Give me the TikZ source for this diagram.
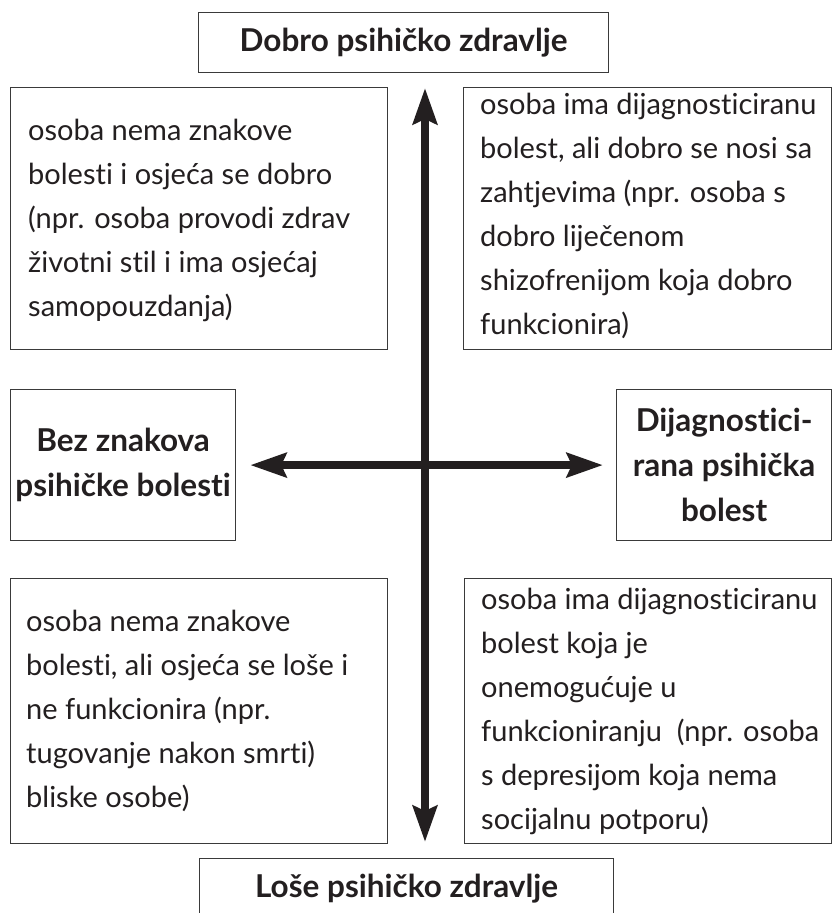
\documentclass[tikz,border=0pt]{standalone}
\usepackage{fontspec}
\setmainfont{Lato}[Ligatures={NoCommon,NoRare}]
\usetikzlibrary{arrows.meta}
\definecolor{ink}{HTML}{231F20}
\definecolor{frame}{HTML}{3A3A3A}
\begin{document}
\begin{tikzpicture}[x=1pt,y=-1pt,
  box/.style={draw=frame, line width=1.2pt, inner sep=0pt, anchor=north west},
  body/.style={font=\fontsize{29}{44}\selectfont, text=ink, align=left, inner sep=0pt, anchor=west},
  head/.style={font=\bfseries\fontsize{31.5}{45}\selectfont, text=ink, align=center, inner sep=0pt},
  bigarrow/.style={draw=ink, line width=8.5pt,
    {Stealth[length=36pt,width=24pt,inset=5pt]}-{Stealth[length=36pt,width=24pt,inset=5pt]}}]
\useasboundingbox (0,0) rectangle (833,913);
\clip (0,0) rectangle (833,913);
\fill[white] (0,0) rectangle (833,913);

% boxes
\node[box, minimum width=410pt, minimum height=60pt] (top) at (198,12) {};
\node[box, minimum width=377pt, minimum height=262pt] (tl) at (10,87) {};
\node[box, minimum width=368pt, minimum height=262pt] (tr) at (463,87) {};
\node[box, minimum width=225pt, minimum height=151pt] (ml) at (10,389) {};
\node[box, minimum width=215pt, minimum height=151pt] (mr) at (616,389) {};
\node[box, minimum width=377pt, minimum height=265pt] (bl) at (10,578) {};
\node[box, minimum width=367pt, minimum height=265pt] (br) at (464,578) {};
\node[box, minimum width=414pt, minimum height=60pt] (bot) at (199,858) {};

% headings
\node[head] (topt) at (top.center) {Dobro psihičko zdravlje};
\node[head] (bott) at (bot.center) {Loše psihičko zdravlje};
\node[head] (mlt) at (ml.center) {Bez znakova\\psihičke bolesti};
\node[head] (mrt) at (mr.center) {Dijagnostici-\\rana psihička\\bolest};

% body texts
\node[body] (tlt) at ([xshift=18pt,yshift=-2pt]tl.west) {osoba nema znakove\\bolesti i osjeća se dobro\\(npr. osoba provodi zdrav\\životni stil i ima osjećaj\\samopouzdanja)};
\node[body] (trt) at ([xshift=17pt,yshift=3pt]tr.west) {osoba ima dijagnosticiranu\\bolest, ali dobro se nosi sa\\zahtjevima (npr. osoba s\\dobro liječenom\\shizofrenijom koja dobro\\funkcionira)};
\node[body] (blt) at ([xshift=16pt]bl.west) {osoba nema znakove\\bolesti, ali osjeća se loše i\\ne funkcionira (npr.\\tugovanje nakon smrti)\\bliske osobe)};
\node[body] (brt) at ([xshift=17pt]br.west) {osoba ima dijagnosticiranu\\bolest koja je\\onemogućuje u\\funkcioniranju~ (npr. osoba\\s depresijom koja nema\\socijalnu potporu)};

% axes
\coordinate (vtop) at (425,88);
\coordinate (vbot) at (425,842);
\draw[bigarrow] (vtop) -- (vbot);
\draw[bigarrow, shorten <=14pt, shorten >=13pt] (ml.east) -- (mr.west);
\end{tikzpicture}
\end{document}
